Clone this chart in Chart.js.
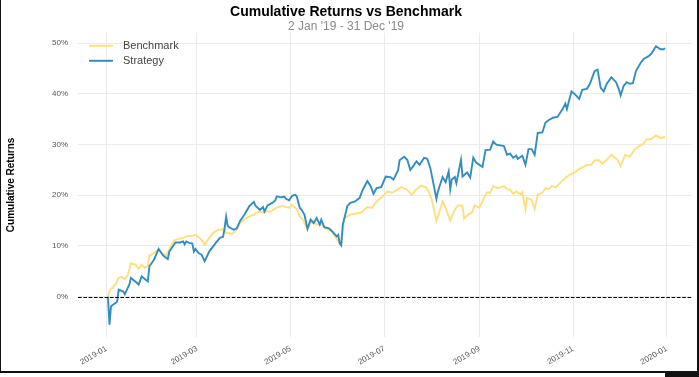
<!DOCTYPE html>
<html>
<head>
<meta charset="utf-8">
<script src="https://cdn.jsdelivr.net/npm/chart.js@4/dist/chart.umd.min.js"></script>
<style>
  html, body { margin: 0; padding: 0; background: #fff; }
  #wrap { position: relative; width: 699px; height: 377px; overflow: hidden; }
  canvas { position: absolute; left: 0; top: 0; }
  .edge { position: absolute; background: #111; }
</style>
</head>
<body>
<div id="wrap">
  <canvas id="c" width="699" height="377"></canvas>
  <div class="edge" style="left:0;top:0;width:1px;height:372px;"></div>
  <div class="edge" style="left:697px;top:0;width:2px;height:373px;"></div>
  <div class="edge" style="left:0;top:371px;width:699px;height:2px;"></div>
  <div class="edge" style="left:665px;top:373px;width:34px;height:4px;"></div>
</div>
<script>
// ---- data (days counted from 2019-01-01, values in %) ----
const titleText = 'Cumulative Returns vs Benchmark';
const subtitleText = "2 Jan '19 - 31 Dec '19";
const yAxisTitle = 'Cumulative Returns';

const xTickDays   = [0, 59, 120, 181, 243, 304, 365];
const xTickLabels = ['2019-01', '2019-03', '2019-05', '2019-07', '2019-09', '2019-11', '2020-01'];
const yTickValues = [0, 10, 20, 30, 40, 50];

const seriesNames = ['Benchmark', 'Strategy'];

const strategyDays = [
  1,2,3,7,8,11,12,15,16,20,
  21,23,25,27,28,31,34,37,40,41,
  45,48,50,51,52,54,56,57,58,60,
  62,64,67,71,74,76,77,78,79,80,
  83,85,87,90,93,96,97,100,102,103,
  105,108,110,111,114,115,116,117,119,121,
  123,124,126,127,129,131,133,135,137,139,
  140,142,145,147,148,150,151,152,153,154,
  157,159,162,165,167,170,172,174,176,179,
  182,185,187,190,191,194,196,198,200,202,
  204,207,209,211,213,215,216,219,221,223,
  224,225,227,228,231,232,235,237,239,241,
  245,247,250,252,254,259,261,263,265,267,
  268,271,273,275,277,279,281,284,286,288,
  291,294,297,299,300,303,305,308,310,313,
  315,318,320,322,324,326,329,332,334,335,
  337,339,341,343,345,348,350,353,355,358,
  361,363,364
];
const strategyValues = [
  0,-5.5,-1.9,-1.0,1.4,1.0,0.5,2.4,3.7,2.7,
  2.4,4.0,3.5,3.0,6.0,7.3,9.4,8.1,7.4,8.9,
  10.7,10.7,10.9,10.3,10.9,10.6,10.5,8.9,9.4,8.6,
  8.3,7.0,8.9,10.5,11.6,11.8,13.5,15.8,14.0,13.7,
  13.2,13.5,14.9,16.2,17.8,18.7,18.0,17.1,17.7,16.8,
  18.0,18.5,19.0,19.8,19.6,19.7,19.7,19.3,19.0,19.9,
  20.1,19.8,17.5,17.2,16.2,13.4,15.2,14.5,15.5,14.2,
  15.2,13.7,13.5,12.9,12.6,11.9,12.2,10.5,10.1,14.2,
  17.9,18.5,18.8,19.5,21.1,22.8,21.9,20.3,21.4,21.6,
  23.7,23.6,23.1,24.9,26.9,27.6,27.0,25.0,25.8,26.7,
  26.0,27.4,27.2,25.4,22.4,19.3,20.8,23.6,22.6,24.7,
  21.2,23.1,23.6,22.4,27.0,23.7,24.5,23.5,27.4,26.4,
  25.6,28.9,29.0,30.6,30.0,29.7,28.0,28.2,27.4,27.8,
  27.2,27.8,26.0,29.1,29.1,28.0,32.3,32.4,34.3,34.8,
  35.3,35.5,36.9,38.1,37.0,40.5,40.0,39.0,40.8,41.0,
  42.0,44.5,44.8,41.2,40.5,42.0,43.3,42.3,40.8,39.7,
  41.6,42.3,42.0,42.1,44.5,46.1,46.9,47.4,47.9,49.4,
  48.8,48.8,49.0
];

const benchmarkDays = [
  1,2,3,6,8,10,12,14,16,19,
  21,23,25,27,28,31,34,36,39,41,
  44,47,50,52,56,58,60,62,64,66,
  70,73,75,77,78,82,84,87,90,93,
  96,98,100,102,104,107,109,112,115,119,
  121,124,126,128,131,134,137,140,142,146,
  149,152,153,155,159,163,166,170,173,176,
  179,183,186,189,192,196,199,202,205,208,
  210,212,215,217,219,221,224,227,229,232,
  233,236,238,240,243,246,248,250,252,255,
  259,261,263,265,267,270,271,273,274,277,
  279,281,284,286,288,290,293,296,299,302,
  305,308,311,313,316,318,321,323,326,329,
  333,335,338,341,344,347,350,352,355,358,
  361,364
];
const benchmarkValues = [
  0,1.0,1.5,2.4,3.7,3.9,3.4,4.3,6.6,6.3,
  5.5,6.3,5.7,6.1,8.1,8.6,9.3,8.6,8.1,9.3,
  11.1,11.4,11.6,11.9,12.0,12.2,11.8,11.2,10.3,11.2,
  12.7,13.2,13.2,13.4,12.6,12.4,12.9,14.4,15.3,15.8,
  16.2,16.6,16.8,16.6,16.8,16.8,17.2,17.7,17.9,17.5,
  18.1,17.3,15.8,15.2,13.2,15.1,14.2,14.5,13.5,13.1,
  11.9,10.5,11.2,15.5,16.2,16.4,16.6,17.7,17.5,18.8,
  19.5,20.8,20.5,21.0,21.6,21.1,20.1,21.2,21.9,21.6,
  20.8,19.1,14.9,16.8,18.8,17.5,15.0,17.2,18.0,18.0,
  15.4,16.3,16.5,18.0,17.5,19.5,20.6,20.5,21.8,21.4,
  21.8,21.2,21.1,20.3,20.8,20.1,20.6,17.2,19.5,19.1,
  17.3,20.1,20.5,21.4,21.2,21.8,21.6,22.6,23.4,24.1,
  24.5,25.2,25.6,26.0,26.0,26.9,26.9,26.2,27.0,28.0,
  27.0,25.8,28.0,27.6,29.0,29.7,30.2,31.0,31.1,31.8,
  31.3,31.5
];

// ---- styling ----
const FONT = "'Liberation Sans', Arial, Helvetica, sans-serif";
const benchColor = 'rgba(254, 221, 120, 0.95)';
const stratColor = '#348dc1';

const toPoints = (xs, ys) => xs.map((d, i) => ({ x: d, y: ys[i] }));

const zeroLine = {
  id: 'zeroLine',
  afterDatasetsDraw(chart) {
    const { ctx, chartArea, scales } = chart;
    const y = Math.round(scales.y.getPixelForValue(0)) + 0.5;
    ctx.save();
    ctx.strokeStyle = '#000';
    ctx.lineWidth = 1;
    ctx.setLineDash([3.7, 1.6]);
    ctx.beginPath();
    ctx.moveTo(chartArea.left, y);
    ctx.lineTo(chartArea.right, y);
    ctx.stroke();
    ctx.restore();
  }
};

const insideLegend = {
  id: 'insideLegend',
  afterDraw(chart) {
    const { ctx, chartArea } = chart;
    ctx.save();
    ctx.font = '11px ' + FONT;
    ctx.textBaseline = 'middle';
    ctx.textAlign = 'left';
    chart.data.datasets.forEach((ds, i) => {
      const y = chartArea.top + 13 + i * 15;
      ctx.strokeStyle = ds.borderColor;
      ctx.lineWidth = 2;
      ctx.beginPath();
      ctx.moveTo(chartArea.left + 11, y);
      ctx.lineTo(chartArea.left + 35, y);
      ctx.stroke();
      ctx.fillStyle = '#444';
      ctx.fillText(ds.label, chartArea.left + 45, y + 0.5);
    });
    ctx.restore();
  }
};

new Chart(document.getElementById('c'), {
  type: 'line',
  data: {
    datasets: [
      { label: seriesNames[0], data: toPoints(benchmarkDays, benchmarkValues),
        borderColor: benchColor, borderWidth: 1.9, pointRadius: 0, tension: 0, order: 2 },
      { label: seriesNames[1], data: toPoints(strategyDays, strategyValues),
        borderColor: stratColor, borderWidth: 1.9, pointRadius: 0, tension: 0, order: 1 }
    ]
  },
  options: {
    responsive: false,
    animation: false,
    devicePixelRatio: 1,
    layout: { padding: { left: 0, right: 7, top: 0, bottom: 0 } },
    plugins: {
      legend: { display: false },
      tooltip: { enabled: false },
      title: {
        display: true, text: titleText, color: '#000',
        font: { family: FONT, size: 14, weight: 'bold' },
        padding: { top: 4, bottom: 0 }
      },
      subtitle: {
        display: true, text: subtitleText, color: '#8a8a8a',
        font: { family: FONT, size: 12, lineHeight: 1.0 },
        padding: { top: 0, bottom: 0 }
      }
    },
    scales: {
      x: {
        type: 'linear',
        min: -18.5, max: 381.5,
        afterBuildTicks: (axis) => { axis.ticks = xTickDays.map(v => ({ value: v })); },
        afterFit: (axis) => { axis.height = 40; },
        grid: { color: '#ebebeb', lineWidth: 1, drawTicks: false },
        border: { display: false },
        ticks: {
          autoSkip: false, minRotation: 30, maxRotation: 30, padding: 7,
          color: '#555', font: { family: FONT, size: 8 },
          callback: (v, i) => xTickLabels[i]
        }
      },
      y: {
        min: -7.95, max: 52.05,
        afterBuildTicks: (axis) => { axis.ticks = yTickValues.map(v => ({ value: v })); },
        afterFit: (axis) => { axis.width = 78; },
        grid: { color: '#ebebeb', lineWidth: 1, drawTicks: false },
        border: { display: false },
        ticks: {
          padding: 10, color: '#555', font: { family: FONT, size: 8 },
          callback: (v) => v + '%'
        },
        title: {
          display: true, text: yAxisTitle, color: '#000',
          font: { family: FONT, size: 10, weight: 'bold' },
          padding: { top: 5, bottom: 0 }
        }
      }
    }
  },
  plugins: [zeroLine, insideLegend]
});
</script>
</body>
</html>
